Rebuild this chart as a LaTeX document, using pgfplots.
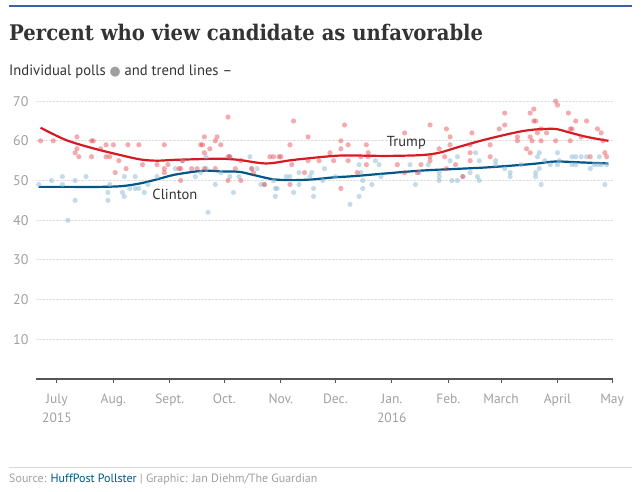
\documentclass[border=0pt]{standalone}
\usepackage{pgfplots}
\pgfplotsset{compat=1.18}
\usepackage{pgfplotstable}
\usepackage{fontspec}
\setmainfont{PT Sans}
\newfontfamily\titlefont{DejaVu Serif}
\newfontfamily\symfont{DejaVu Sans}

\definecolor{rulecol}{RGB}{62,96,164}
\definecolor{gublue}{HTML}{005689}
\definecolor{trumpred}{RGB}{214,26,34}
\definecolor{trumppt}{RGB}{226,56,66}
\definecolor{clintonpt}{RGB}{140,185,210}
\definecolor{ticktext}{RGB}{160,160,160}
\definecolor{darktext}{RGB}{51,51,51}
\definecolor{axisgray}{RGB}{85,85,85}

% x = days since 1 July 2015
\pgfplotstableread{
day val
-9 60
-2 60
11 61
11 58
10 57
12 56
19 60
20 60
19 56
24 58
27 56
29 56
27 59
31 59
34 55
32 52
38 53
39 59
45 59
47 54
55 54
59 59
59 53
59 52
61 54
67 53
68 53
68 50
69 55
74 53
77 53
79 59
80 59
81 61
81 57
81 53
84 58
87 60
87 53
88 61
90 59
94 66
94 56
95 56
94 50
98 53
101 55
101 50
107 53
108 52
114 49
117 56
119 56
122 56
123 56
128 59
128 49
129 54
130 65
136 52
138 55
138 61
144 55
150 57
152 55
156 60
156 58
156 48
158 64
160 59
160 55
165 52
167 56
170 59
171 57
171 56
170 54
187 54
191 62
191 52
198 52
200 54
205 55
205 56
205 64
210 58
213 56
214 63
214 53
216 61
216 59
219 54
223 51
227 57
227 59
227 55
228 62
238 59
238 56
243 63
246 67
246 64
253 61
253 60
258 58
260 67
260 61
260 57
261 60
262 68
262 65
263 65
264 62
266 63
266 60
269 62
274 70
274 60
275 69
281 67
282 63
282 60
283 63
285 65
288 61
291 65
293 56
297 63
299 62
300 60
301 57
302 56
}\trumppolls

\pgfplotstableread{
day val
-10 49
-3 50
3 51
3 49
6 40
10 50
10 45
16 51
28 47
28 45
29 49
36 47
37 46
37 51
40 48
43 48
45 48
43 51
48 47
50 49
55 51
65 53
69 55
76 51
82 56
83 42
87 49
79 52
82 53
90 52
95 56
95 51
97 47
100 51
106 56
107 53
110 53
112 49
114 49
119 50
120 48
121 48
120 46
126 51
128 51
130 47
133 49
133 52
139 51
140 52
141 48
141 46
146 50
147 53
153 51
161 44
166 46
166 54
167 52
168 50
168 48
173 49
175 55
177 54
178 51
194 54
197 49
199 52
204 54
210 52
210 51
210 50
216 55
217 50
220 50
220 56
223 51
227 52
230 57
231 51
232 50
232 55
241 55
241 54
246 53
249 52
249 51
255 54
263 52
263 51
264 56
265 57
265 53
266 49
268 55
271 54
275 57
275 54
276 55
283 56
285 56
288 56
291 56
283 54
285 54
293 53
295 54
297 54
299 54
302 54
298 56
301 49
}\clintonpolls

\pgfplotstableread{
day val
-9 63.3
5 60.2
20 58.1
35 56.4
46 55.3
55 55.0
64 55.2
79 55.4
90 55.5
100 55.2
115 54.3
130 55.2
152 56.2
163 56.3
181 56.2
200 56.4
210 57.0
221 58.5
236 60.4
254 62.3
264 62.9
274 63.0
280 62.3
291 61.0
303 60.0
}\trumptrend

\pgfplotstableread{
day val
-10 48.4
5 48.4
24 48.4
36 48.6
46 49.3
55 50.3
64 51.4
75 52.2
82 52.5
90 52.3
100 52.2
108 51.4
119 50.3
130 50.1
141 50.3
152 50.8
163 51.1
181 51.8
200 52.5
218 52.9
236 53.3
254 53.9
264 54.3
271 54.7
276 54.8
286 54.6
303 54.3
}\clintontrend

\begin{document}
\begin{tikzpicture}
\path[use as bounding box] (0bp,0bp) rectangle (641bp,492bp);

% header
\draw[rulecol, line width=2.5bp] (9bp,486bp) -- (632bp,486bp);
\node[anchor=base west, inner sep=0, text=darktext] at (9bp,451.3bp)
  {\resizebox{474bp}{\height}{\titlefont\bfseries\fontsize{21.5bp}{24bp}\selectfont Percent who view candidate as unfavorable}};
\node[anchor=base west, inner sep=0, text=darktext] at (9bp,416bp)
  {\resizebox{223bp}{\height}{\fontsize{15bp}{17bp}\selectfont Individual polls \raisebox{0.5bp}{\symfont\fontsize{13bp}{13bp}\selectfont\textcolor{gray!75}{●}} and trend lines –}};

\begin{axis}[
  at={(36bp,113bp)}, anchor=south west,
  scale only axis, width=577bp, height=285.8bp,
  xmin=-11.5, xmax=305.5, ymin=0, ymax=72,
  axis x line=bottom, axis y line=left,
  axis line style={-},
  x axis line style={draw=axisgray, line width=1.3bp},
  y axis line style={draw=none},
  ytick={10,20,...,70},
  ytick style={draw=none},
  ymajorgrids,
  grid style={densely dotted, draw=gray!25, line width=0.9bp},
  xtick={0,31,62,92,123,153,184,215,244,275,305},
  xticklabels={July\\2015, Aug., Sept., Oct., Nov., Dec., {Jan.\\2016}, Feb., March, April, May},
  xtick style={draw=axisgray, line width=1bp},
  tick align=outside,
  major tick length=4bp,
  xticklabel style={align=center, text=ticktext, yshift=-7.5bp,
    font=\fontsize{13.5bp}{19.5bp}\selectfont},
  yticklabel style={text=ticktext, font=\fontsize{14bp}{16bp}\selectfont},
  /pgf/number format/assume math mode=true,
  clip=false,
]
\addplot[only marks, mark=*, mark size=2.6bp,
  mark options={draw opacity=0, fill=clintonpt, fill opacity=0.5}]
  table[x=day, y=val] {\clintonpolls};
\addplot[only marks, mark=*, mark size=2.6bp,
  mark options={draw opacity=0, fill=trumppt, fill opacity=0.42}]
  table[x=day, y=val] {\trumppolls};
\addplot[gublue, line width=2.2bp, smooth, no marks] table[x=day, y=val] {\clintontrend};
\addplot[trumpred, line width=2.2bp, smooth, no marks] table[x=day, y=val] {\trumptrend};

\node[text=darktext, font=\fontsize{14.5bp}{16bp}\selectfont] at (axis cs:192,59.4) {Trump};
\node[text=darktext, font=\fontsize{14.5bp}{16bp}\selectfont] at (axis cs:64.8,46.6) {Clinton};
\end{axis}

% footer
\draw[gray!30, line width=0.8bp] (9bp,25bp) -- (632bp,25bp);
\node[anchor=base west, inner sep=0, text=ticktext] at (9bp,9.5bp)
  {\fontsize{12bp}{14bp}\selectfont Source: \textcolor{gublue}{HuffPost Pollster} | Graphic: Jan Diehm/The Guardian};
\end{tikzpicture}
\end{document}
